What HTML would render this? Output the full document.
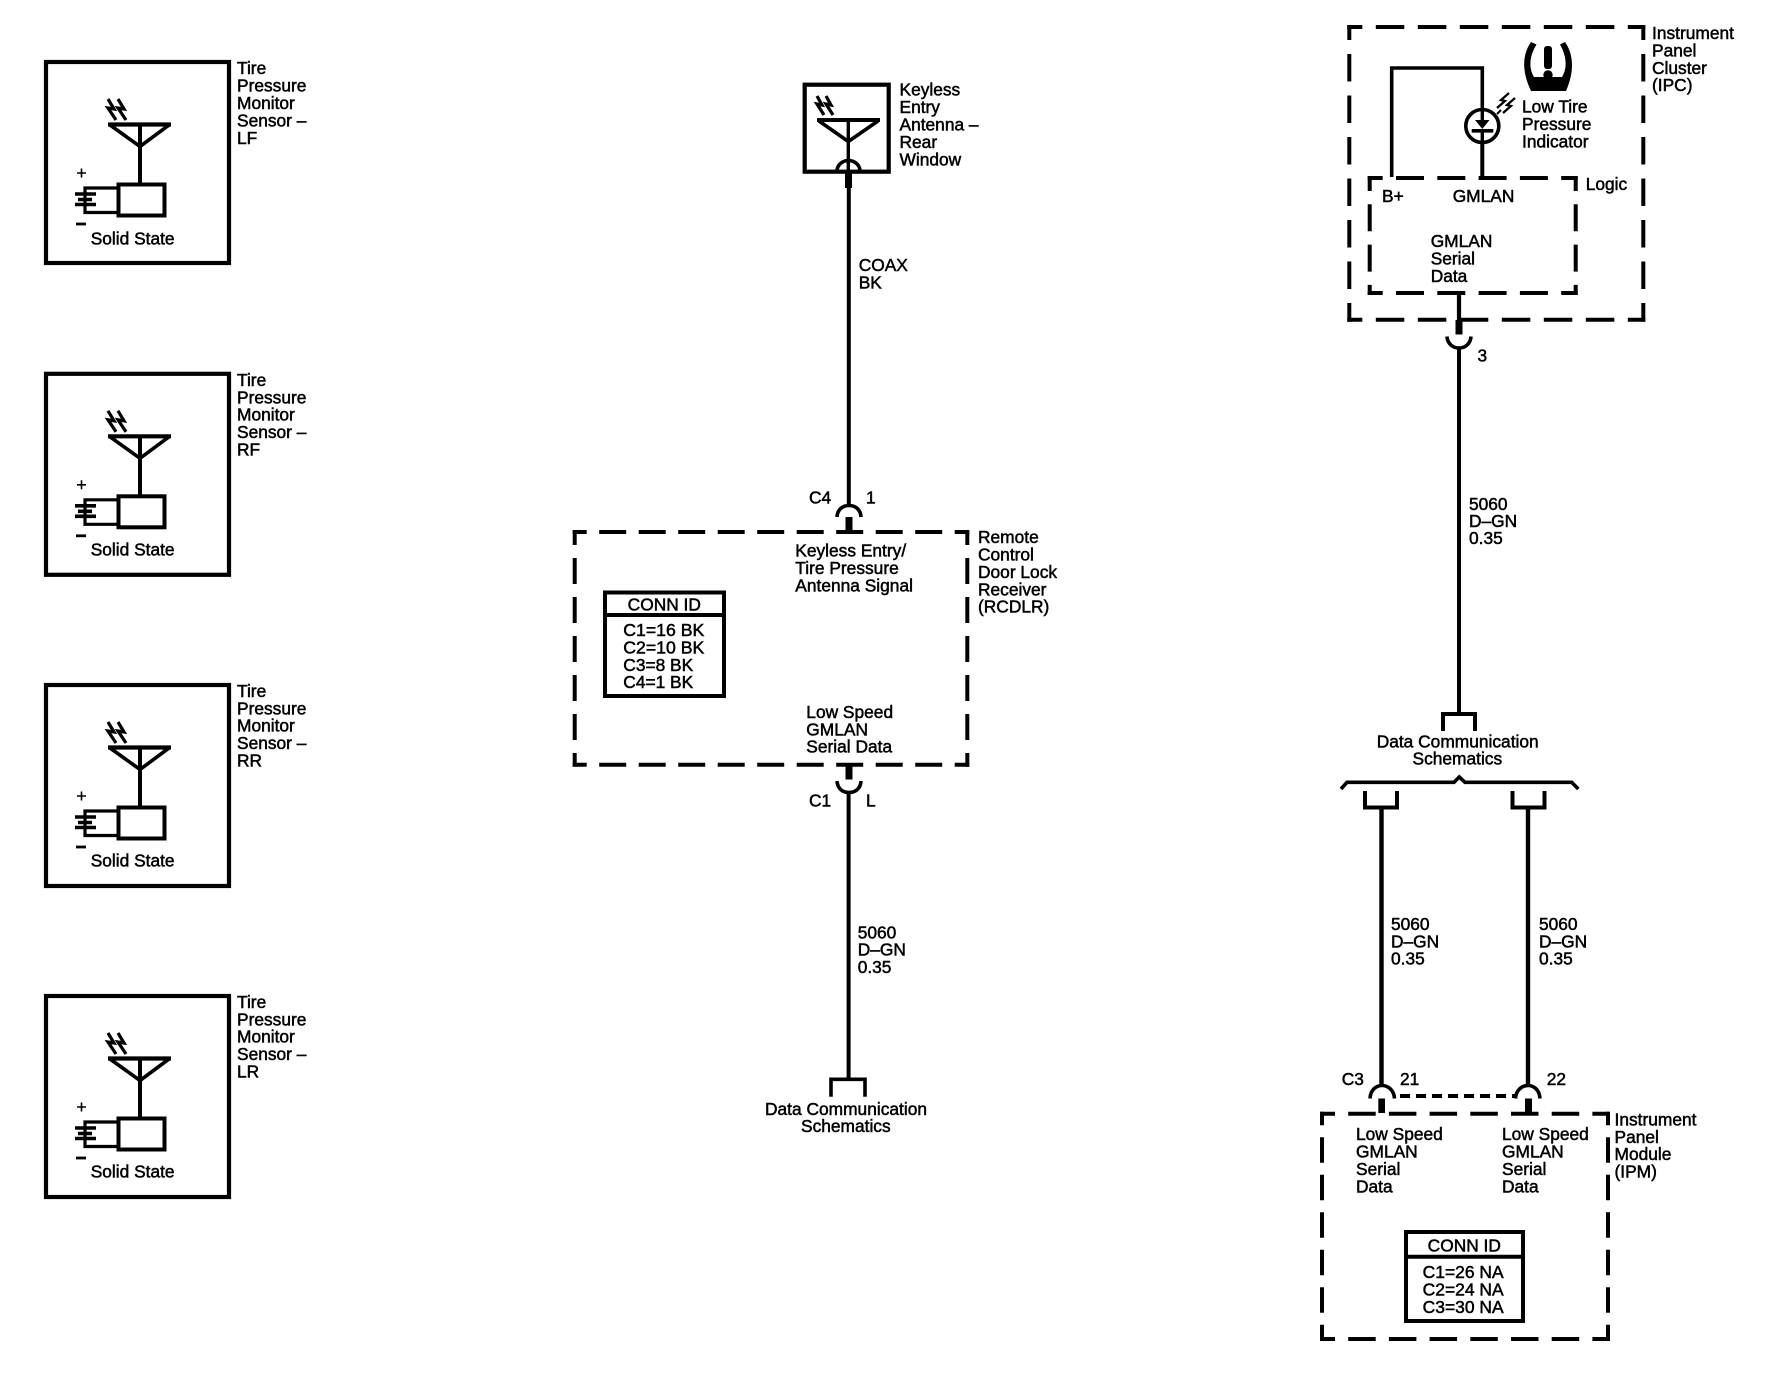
<!DOCTYPE html>
<html>
<head>
<meta charset="utf-8">
<title>Tire Pressure Monitor Schematic</title>
<style>
html,body{margin:0;padding:0;background:#fff;}
svg{display:block;}
text{font-family:"Liberation Sans",sans-serif;font-size:17.35px;fill:#000;stroke:#000;stroke-width:.5px;}
.l{fill:none;stroke:#000;stroke-width:4;}
.t{fill:none;stroke:#000;stroke-width:3.6;}
</style>
</head>
<body>
<svg xmlns="http://www.w3.org/2000/svg" width="1788" height="1392" viewBox="0 0 1788 1392">
<rect width="1788" height="1392" fill="#fff"/>

<defs>
<g id="sensor">
  <rect class="l" x="46" y="62" width="183" height="201" style="stroke-width:4.2"/>
  <path class="l" d="M108,124.5H171" style="stroke-width:4.2"/>
  <path class="t" d="M110,125L140,146.5L169,125"/>
  <path class="l" d="M140,124V184"/>
  <polyline class="t" points="108,99 114,109 108,108 116,120" style="stroke-width:3.2"/>
  <polyline class="t" points="118,99 124,109 118,108 126,120" style="stroke-width:3.2"/>
  <rect class="l" x="118.5" y="184.5" width="46" height="31"/>
  <path class="t" d="M117,188H85V212.5H117" style="stroke-width:3.2"/>
  <path class="l" d="M75,194H96M78,199.5H92M75,204.5H96" style="stroke-width:3.6"/>
  <path class="t" d="M77,173H86M81.5,168.5V177.5" style="stroke-width:1.6"/>
  <path class="t" d="M76,224H86" style="stroke-width:2.8"/>
</g>
</defs>

<!-- Sensors -->
<use href="#sensor"/>
<text x="90.7" y="244.3">Solid State</text>
<text x="237" y="74">Tire</text><text x="237" y="91.5">Pressure</text><text x="237" y="109">Monitor</text><text x="237" y="126.5">Sensor –</text><text x="237" y="144">LF</text>

<use href="#sensor" transform="translate(0,311.8)"/>
<text x="90.7" y="555.3">Solid State</text>
<text x="237" y="385.8">Tire</text><text x="237" y="403.3">Pressure</text><text x="237" y="420.6">Monitor</text><text x="237" y="438">Sensor –</text><text x="237" y="455.4">RF</text>

<use href="#sensor" transform="translate(0,623)"/>
<text x="90.7" y="866.3">Solid State</text>
<text x="237" y="697">Tire</text><text x="237" y="714.3">Pressure</text><text x="237" y="731.6">Monitor</text><text x="237" y="749">Sensor –</text><text x="237" y="766.4">RR</text>

<use href="#sensor" transform="translate(0,934)"/>
<text x="90.7" y="1177.5">Solid State</text>
<text x="237" y="1008">Tire</text><text x="237" y="1025.3">Pressure</text><text x="237" y="1042.6">Monitor</text><text x="237" y="1060">Sensor –</text><text x="237" y="1077.4">LR</text>

<!-- Keyless antenna -->
<rect class="l" x="804.7" y="84.7" width="84" height="87" style="stroke-width:4.2"/>
<path class="l" d="M817,120H880"/>
<path class="t" d="M819,121L848.3,141.5L878,121"/>
<path class="l" d="M848.3,120V170" style="stroke-width:3.4"/>
<polyline class="t" points="817,96 822,105 817,104 824,115" style="stroke-width:3.2"/>
<polyline class="t" points="826,96 831,105 826,104 833,115" style="stroke-width:3.2"/>
<path class="t" d="M837,170C838,164 843,160.5 848.5,160.5C854,160.5 859,164 860,170"/>
<path d="M845,172H852V188H845Z" fill="#000"/>
<text x="899.5" y="95.7">Keyless</text><text x="899.5" y="113.2">Entry</text><text x="899.5" y="130.7">Antenna –</text><text x="899.5" y="148.2">Rear</text><text x="899.5" y="165.7">Window</text>

<path class="l" d="M848.8,185V505"/>
<text x="858.7" y="271">COAX</text><text x="858.7" y="288.4">BK</text>

<!-- C4 -->
<path class="t" d="M837,517C837.5,509 843,505.5 849,505.5C855,505.5 860.5,509 861,517"/>
<path d="M845.5,517H852.5V532H845.5Z" fill="#000"/>
<text x="809" y="503.3">C4</text><text x="866" y="503.3">1</text>

<!-- RCDLR box -->
<g fill="none" stroke="#000" stroke-width="4">
<line x1="572.7" y1="532" x2="969.3" y2="532" stroke-dasharray="27 12.5" stroke-dashoffset="13"/>
<line x1="572.7" y1="764.7" x2="969.3" y2="764.7" stroke-dasharray="27 12.5" stroke-dashoffset="13"/>
<line x1="574.7" y1="530" x2="574.7" y2="766.7" stroke-dasharray="26 13" stroke-dashoffset="11"/>
<line x1="967.3" y1="530" x2="967.3" y2="766.7" stroke-dasharray="26 13" stroke-dashoffset="11"/>
</g>
<text x="978" y="543">Remote</text><text x="978" y="560.5">Control</text><text x="978" y="578">Door Lock</text><text x="978" y="595.3">Receiver</text><text x="978" y="612.7">(RCDLR)</text>
<text x="795.3" y="556.7">Keyless Entry/</text><text x="795.3" y="574">Tire Pressure</text><text x="795.3" y="591.3">Antenna Signal</text>
<text x="806.3" y="718">Low Speed</text><text x="806.3" y="735.4">GMLAN</text><text x="806.3" y="752.7">Serial Data</text>

<rect class="l" x="605" y="592.5" width="119" height="103.5"/>
<path class="l" d="M605,615H724"/>
<text x="664.3" y="610.7" text-anchor="middle">CONN ID</text>
<text x="623.3" y="636" textLength="81" lengthAdjust="spacingAndGlyphs">C1=16 BK</text><text x="623.3" y="653.4" textLength="81" lengthAdjust="spacingAndGlyphs">C2=10 BK</text><text x="623.3" y="670.8">C3=8 BK</text><text x="623.3" y="688">C4=1 BK</text>

<!-- C1 -->
<path d="M845.5,765H852.5V779.5H845.5Z" fill="#000"/>
<path class="t" d="M837,781C837.5,789 843,792.5 849,792.5C855,792.5 860.5,789 861,781"/>
<path class="l" d="M848.6,792V1079"/>
<text x="809" y="806.7">C1</text><text x="866" y="806.7">L</text>
<text x="857.7" y="938.3">5060</text><text x="857.7" y="955.5">D–GN</text><text x="857.7" y="972.8">0.35</text>
<path class="t" d="M831,1096.7V1079.3H865V1096.7"/>
<text x="765" y="1115" textLength="162" lengthAdjust="spacingAndGlyphs">Data Communication</text>
<text x="801" y="1132">Schematics</text>

<!-- IPC -->
<g fill="none" stroke="#000" stroke-width="4">
<line x1="1347.3" y1="27" x2="1645.3" y2="27" stroke-dasharray="28.5 13.5" stroke-dashoffset="13.5"/>
<line x1="1347.3" y1="319.7" x2="1645.3" y2="319.7" stroke-dasharray="28.5 13.5" stroke-dashoffset="13.5"/>
<line x1="1349.3" y1="25" x2="1349.3" y2="321.7" stroke-dasharray="27.5 14" stroke-dashoffset="12.5"/>
<line x1="1643.3" y1="25" x2="1643.3" y2="321.7" stroke-dasharray="27.5 14" stroke-dashoffset="12.5"/>
<line x1="1367.7" y1="178" x2="1577.7" y2="178" stroke-dasharray="28 13.3" stroke-dashoffset="13"/>
<line x1="1367.7" y1="293" x2="1577.7" y2="293" stroke-dasharray="28 13.3" stroke-dashoffset="13"/>
<line x1="1369.7" y1="176" x2="1369.7" y2="295" stroke-dasharray="27 13.3" stroke-dashoffset="12"/>
<line x1="1575.7" y1="176" x2="1575.7" y2="295" stroke-dasharray="27 13.3" stroke-dashoffset="12"/>
</g>
<text x="1652" y="39">Instrument</text><text x="1652" y="56.5">Panel</text><text x="1652" y="74">Cluster</text><text x="1652" y="91">(IPC)</text>
<text x="1585.7" y="190">Logic</text>
<text x="1382" y="202">B+</text><text x="1452.7" y="202">GMLAN</text>
<text x="1430.7" y="247">GMLAN</text><text x="1430.7" y="264.5">Serial</text><text x="1430.7" y="282">Data</text>
<text x="1522" y="112.7">Low Tire</text><text x="1522" y="130">Pressure</text><text x="1522" y="147.7">Indicator</text>

<path class="t" d="M1391.7,177V68H1482.3V108"/>
<path class="l" d="M1482.3,142V178"/>
<circle class="t" cx="1482.3" cy="126" r="16.5"/>
<path class="l" d="M1482.3,108V122" style="stroke-width:3.4"/>
<path d="M1475,120H1489.5L1482.3,129Z" fill="#000"/>
<path class="t" d="M1471.7,130.8H1493.3"/>
<path class="l" d="M1482.3,130V142" style="stroke-width:3.4"/>
<path class="t" d="M1497,114L1501,110" style="stroke-width:2"/>
<polyline class="t" points="1497,108 1505,101 1501,100 1509,93" style="stroke-width:2.3"/>
<polyline class="t" points="1503,113 1511,106 1507,105 1515,98" style="stroke-width:2.3"/>

<!-- Tire icon -->
<path d="M1531,42L1536.5,44.5C1530,55 1528,67 1534,77L1562,77C1568,67 1566,55 1560,44.5L1565,42C1572,52 1576,68 1566,91L1531,91C1520,68 1524,52 1531,42Z" fill="#000"/>
<rect x="1544" y="46" width="8" height="23" rx="3" fill="#000"/>
<circle cx="1548" cy="75" r="4.7" fill="#000"/>

<!-- IPC output -->
<path class="l" d="M1459,295V322" style="stroke-width:4.2"/>
<path d="M1455.5,320H1462.5V334.5H1455.5Z" fill="#000"/>
<path class="t" d="M1447,336.5C1447.5,344 1453,348 1459,348C1465,348 1470.5,344 1471,336.5"/>
<path class="l" d="M1459,347V713"/>
<text x="1477.5" y="361.7">3</text>
<text x="1469" y="510">5060</text><text x="1469" y="527">D–GN</text><text x="1469" y="544.2">0.35</text>
<path class="l" d="M1443,731V714H1475V731"/>
<text x="1376.7" y="747.3" textLength="162" lengthAdjust="spacingAndGlyphs">Data Communication</text>
<text x="1412.5" y="764.3">Schematics</text>

<!-- Brace -->
<path class="t" d="M1341,789L1347,782.3H1454L1459.3,777L1465,782.3H1571.7L1578.3,789"/>

<!-- Tees -->
<path class="l" d="M1365,791V807.5H1397V791"/>
<path class="l" d="M1512.5,791V807.5H1544.5V791"/>
<path class="l" d="M1381.5,807V1086" style="stroke-width:4.4"/>
<path class="l" d="M1528,807V1086" style="stroke-width:4.4"/>
<text x="1391" y="930">5060</text><text x="1391" y="947.3">D–GN</text><text x="1391" y="964.4">0.35</text>
<text x="1539" y="930">5060</text><text x="1539" y="947.3">D–GN</text><text x="1539" y="964.4">0.35</text>

<!-- C3 connectors -->
<path class="t" d="M1370,1098.5C1370.5,1090 1376,1085.5 1382,1085.5C1388,1085.5 1394,1090 1394.5,1098.5"/>
<path class="t" d="M1515.5,1098.5C1516,1090 1522,1085.5 1528,1085.5C1534,1085.5 1539.5,1090 1540,1098.5"/>
<line x1="1395" y1="1096" x2="1515" y2="1096" stroke="#000" stroke-width="4" stroke-dasharray="10 6" stroke-dashoffset="-5"/>
<path d="M1378.3,1098.5H1385V1113H1378.3Z" fill="#000"/>
<path d="M1525,1098.5H1532V1113H1525Z" fill="#000"/>
<text x="1341.7" y="1085">C3</text><text x="1400" y="1085">21</text><text x="1546.7" y="1085">22</text>

<!-- IPM -->
<g fill="none" stroke="#000" stroke-width="4">
<line x1="1320" y1="1113.7" x2="1610" y2="1113.7" stroke-dasharray="27.5 13.2" stroke-dashoffset="12.5"/>
<line x1="1320" y1="1339" x2="1610" y2="1339" stroke-dasharray="27.5 13.2" stroke-dashoffset="12.5"/>
<line x1="1322" y1="1111.7" x2="1322" y2="1341" stroke-dasharray="25.5 12" stroke-dashoffset="12"/>
<line x1="1608" y1="1111.7" x2="1608" y2="1341" stroke-dasharray="25.5 12" stroke-dashoffset="12"/>
</g>
<text x="1614.5" y="1125.7">Instrument</text><text x="1614.5" y="1142.9">Panel</text><text x="1614.5" y="1160.2">Module</text><text x="1614.5" y="1177.4">(IPM)</text>
<text x="1356" y="1140">Low Speed</text><text x="1356" y="1157.3">GMLAN</text><text x="1356" y="1175">Serial</text><text x="1356" y="1192.3">Data</text>
<text x="1502" y="1140">Low Speed</text><text x="1502" y="1157.3">GMLAN</text><text x="1502" y="1175">Serial</text><text x="1502" y="1192.3">Data</text>

<rect class="l" x="1406" y="1232" width="117" height="89"/>
<path class="l" d="M1406,1256.7H1523"/>
<text x="1464.3" y="1251.7" text-anchor="middle">CONN ID</text>
<text x="1422.7" y="1278" textLength="81" lengthAdjust="spacingAndGlyphs">C1=26 NA</text><text x="1422.7" y="1295.4" textLength="81" lengthAdjust="spacingAndGlyphs">C2=24 NA</text><text x="1422.7" y="1313" textLength="81" lengthAdjust="spacingAndGlyphs">C3=30 NA</text>
</svg>
</body>
</html>
